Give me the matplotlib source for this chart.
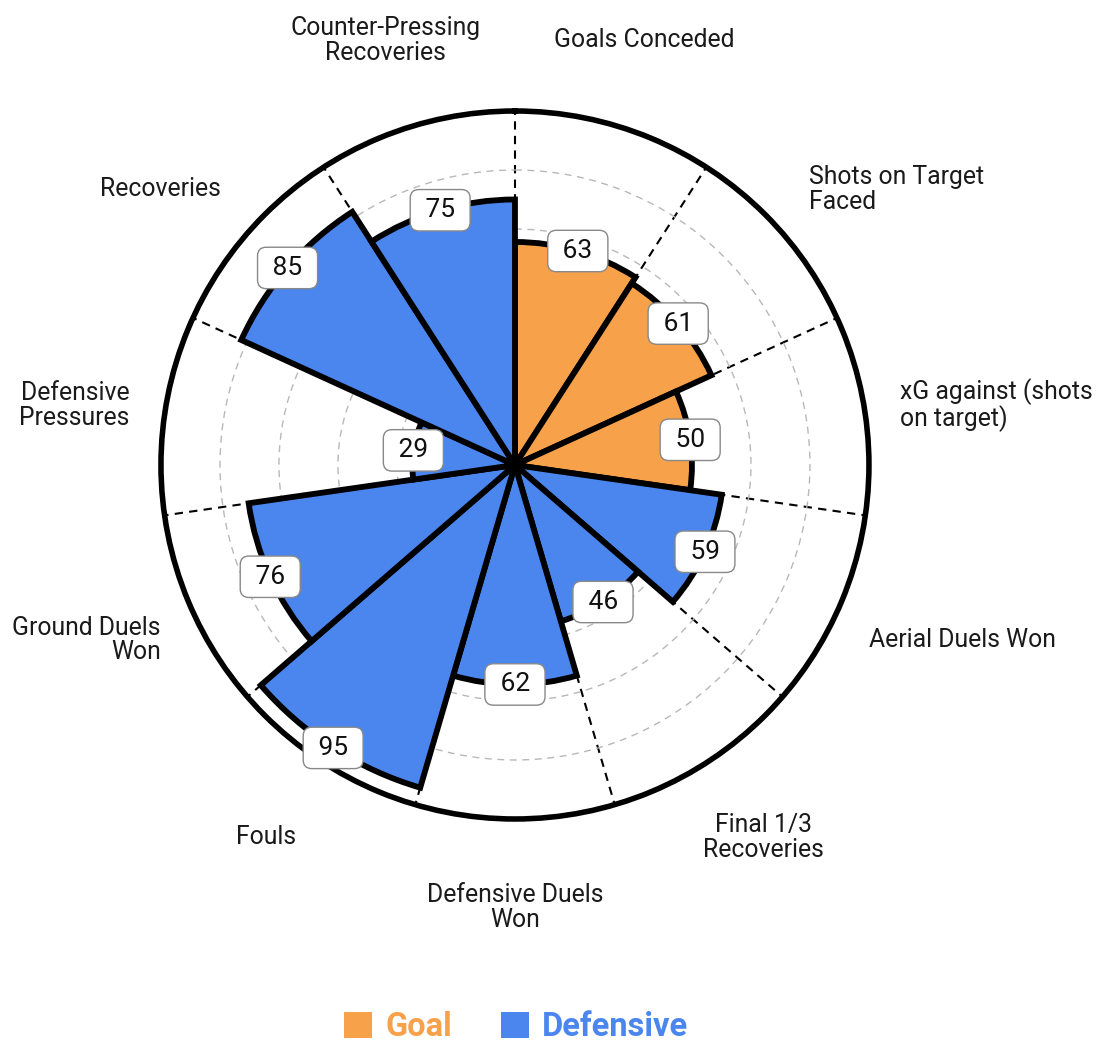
import numpy as np
import matplotlib.pyplot as plt
from matplotlib.patches import Patch

plt.rcParams['font.family'] = ['Roboto', 'DejaVu Sans']

# data, clockwise from 12 o'clock
params = ["Goals Conceded", "Shots on Target\nFaced", "xG against (shots\non target)",
          "Aerial Duels Won", "Final 1/3\nRecoveries", "Defensive Duels\nWon", "Fouls",
          "Ground Duels\nWon", "Defensive\nPressures", "Recoveries",
          "Counter-Pressing\nRecoveries"]
values = [63, 61, 50, 59, 46, 62, 95, 76, 29, 85, 75]
groups = ["Goal", "Goal", "Goal", "Defensive", "Defensive", "Defensive", "Defensive",
          "Defensive", "Defensive", "Defensive", "Defensive"]
group_names = ["Goal", "Defensive"]
group_colors = {"Goal": "#F7A14B", "Defensive": "#4A86EE"}

n = len(params)
width = 2 * np.pi / n
theta = (np.arange(n) + 0.5) * width

fig = plt.figure(figsize=(10.98, 10.42), dpi=100)
ax = fig.add_axes([0.1466, 0.214, 0.6448, 0.6795], projection='polar')
ax.set_theta_zero_location('N')
ax.set_theta_direction(-1)
ax.set_ylim(0, 100)

ax.set_xticks(np.arange(n) * width)
ax.set_yticks(np.arange(1, 6) * 100 / 6)
ax.set_xticklabels([])
ax.set_yticklabels([])
ax.tick_params(length=0)
ax.xaxis.grid(True, color='black', ls=(0, (4, 3)), lw=1.5)
ax.yaxis.grid(True, color='#b8b8b8', ls=(0, (5, 4)), lw=1)
ax.set_axisbelow(True)
ax.spines['polar'].set_linewidth(4)

ax.bar(theta, values, width=width, color=[group_colors[g] for g in groups],
       edgecolor='black', linewidth=4.2, zorder=2)

for t, v in zip(theta, values):
    ax.text(t, v, f" {v} ", ha='center', va='center', fontsize=19, color='#111111',
            zorder=5, bbox=dict(boxstyle='round,pad=0.33', fc='white', ec='#888888', lw=1))

# parameter names around the circle (axes coords, radius 0.5 = value 100)
for t, p in zip(theta, params):
    s, c = np.sin(t), np.cos(t)
    if s > 0.6:
        ha, rx, ry = 'left', 1.10, 1.19
    elif s < -0.6:
        ha, rx, ry = 'right', 1.10, 1.19
    else:
        ha, rx, ry = 'center', 1.30, 1.25
    ax.text(0.5 + 0.5 * rx * s, 0.5 + 0.5 * ry * c, p, transform=ax.transAxes,
            ha=ha, va='center', fontsize=17.8, color='#1a1a1a', linespacing=1.05)

handles = [Patch(facecolor=group_colors[g], edgecolor='none') for g in group_names]
leg = fig.legend(handles, group_names, loc='center', bbox_to_anchor=(0.47, 0.014),
                 ncol=2, frameon=False, handlelength=0.85, handleheight=0.85,
                 handletextpad=0.4, columnspacing=1.5,
                 prop={'weight': 'bold', 'size': 23.5})
for txt, g in zip(leg.get_texts(), group_names):
    txt.set_color(group_colors[g])

fig.savefig('out.png', dpi=100)
